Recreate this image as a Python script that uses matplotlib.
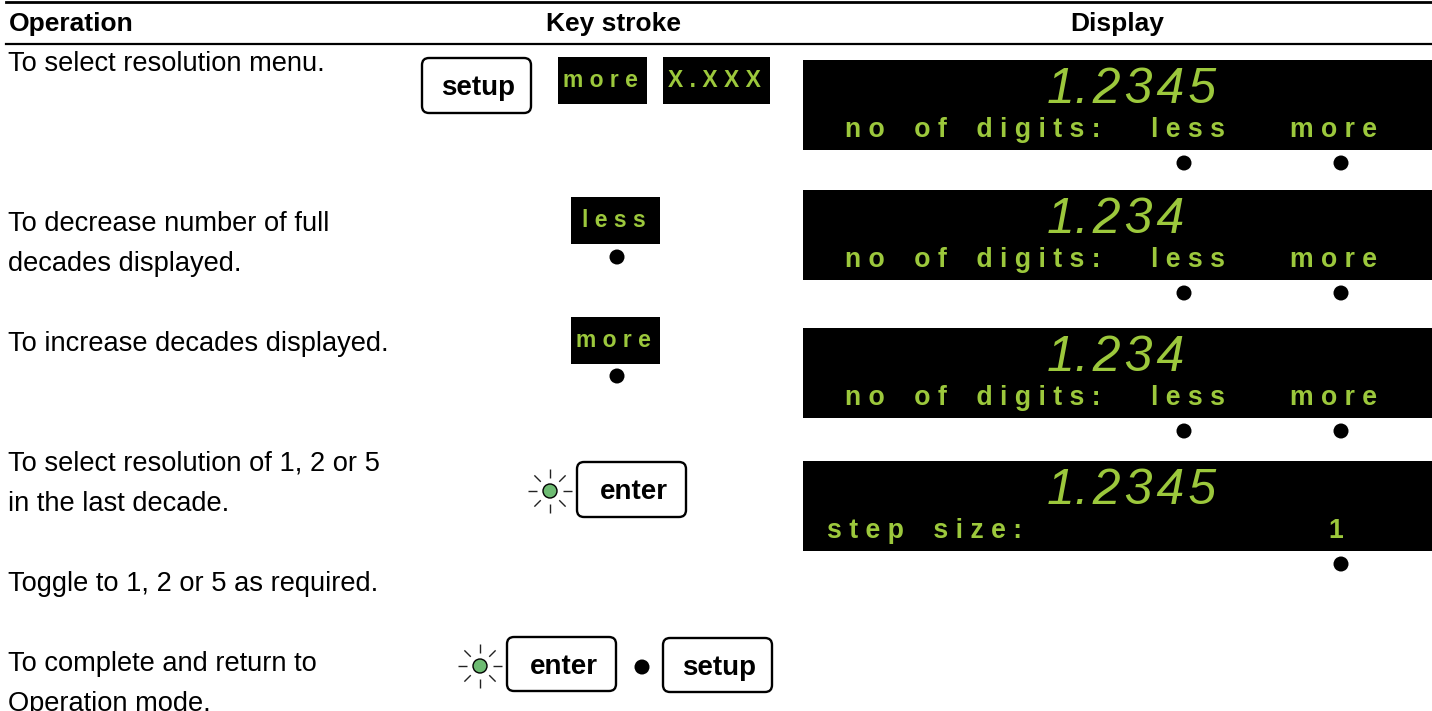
#!/usr/bin/env python3
"""Resolution setup table: operation, key stroke and display columns."""

import matplotlib
matplotlib.use("Agg")
import matplotlib.pyplot as plt
from matplotlib.patches import Circle, FancyBboxPatch, Rectangle

GREEN = "#9cc83c"
LED = "#6dbb72"

headers = ["Operation", "Key stroke", "Display"]
operations = [
    "To select resolution menu.",
    "To decrease number of full\ndecades displayed.",
    "To increase decades displayed.",
    "To select resolution of 1, 2 or 5\nin the last decade.",
    "Toggle to 1, 2 or 5 as required.",
    "To complete and return to\nOperation mode.",
]
display_values = ["1.\u200a2\u200a3\u200a4\u200a5", "1.\u200a2\u200a3\u200a4", "1.\u200a2\u200a3\u200a4", "1.\u200a2\u200a3\u200a4\u200a5"]
display_labels = ["n o    o f    d i g i t s :", "n o    o f    d i g i t s :",
                  "n o    o f    d i g i t s :", "s t e p    s i z e :"]


def spaced(word):
    return " ".join(word)


fig = plt.figure(figsize=(14.32, 7.11), dpi=100)
ax = fig.add_axes([0, 0, 1, 1])
ax.set_xlim(0, 1432)
ax.set_ylim(711, 0)
ax.axis("off")

SANS = ["Liberation Sans", "DejaVu Sans"]
NARROW = ["Liberation Sans Narrow", "Liberation Sans", "DejaVu Sans"]


def draw_key(x0, y0, x1, y1, label):
    ax.add_patch(FancyBboxPatch((x0 + 6, y0 + 6), x1 - x0 - 12, y1 - y0 - 12,
                                boxstyle="round,pad=6,rounding_size=7", fc="white", ec="black", lw=1.7))
    ax.text((x0 + x1) / 2 + 2, y0 + 37, label, ha="center", va="baseline", family=NARROW,
            fontsize=20, fontweight="bold", color="black")


def draw_softkey(x0, y0, x1, y1, label):
    ax.add_patch(Rectangle((x0, y0), x1 - x0, y1 - y0, fc="black", ec="none"))
    ax.text((x0 + x1) / 2 - 2, y0 + 30, spaced(label), ha="center", va="baseline", family=SANS,
            fontsize=16.5, fontweight="bold", color=GREEN)


def draw_dot(x, y):
    ax.add_patch(Circle((x, y), 7.5, fc="black", ec="none"))


def draw_led(x, y):
    # rays around the lit LED
    for dx, dy in [(1, 0), (-1, 0), (0, 1), (0, -1), (.71, .71), (-.71, .71), (.71, -.71), (-.71, -.71)]:
        ax.plot([x + dx * 13, x + dx * 22], [y + dy * 13, y + dy * 22], color="#222222", lw=1, solid_capstyle="butt")
    ax.add_patch(Circle((x, y), 7, fc=LED, ec="black", lw=1))


def draw_display(y0, y1, value, label, right_words):
    ax.add_patch(Rectangle((803, y0), 629, y1 - y0, fc="black", ec="none"))
    ax.text(1047, y0 + 43, value, ha="left", va="baseline", family=SANS, style="italic",
            fontsize=36, color=GREEN)
    ax.text(845 if label.startswith("n") else 827, y0 + 77, label, ha="left", va="baseline", family=SANS,
            fontsize=19.2, fontweight="bold", color=GREEN)
    for x, dot_x, word in right_words:
        ax.text(x, y0 + 77, spaced(word), ha="center", va="baseline", family=SANS,
                fontsize=19.2, fontweight="bold", color=GREEN)
        draw_dot(dot_x, y1 + 13)


# header rules
ax.plot([6, 1432], [2, 2], color="black", lw=2)
ax.plot([6, 1432], [44, 44], color="black", lw=1.6)
ax.text(9, 31, headers[0], ha="left", va="baseline", family=SANS, fontsize=19, fontweight="bold")
ax.text(613, 31, headers[1], ha="center", va="baseline", family=SANS, fontsize=19, fontweight="bold")
ax.text(1117, 31, headers[2], ha="center", va="baseline", family=SANS, fontsize=19, fontweight="bold")

# operation column, text sits on a 40 px baseline grid
op_y = [71, 231, 351, 471, 591, 671]
for y, text in zip(op_y, operations):
    for i, line in enumerate(text.split("\n")):
        ax.text(8, y + 40 * i, line, ha="left", va="baseline", family=SANS, fontsize=19.6, color="black")

# key stroke column
draw_key(422, 58, 531, 113, "setup")
draw_softkey(558, 57, 647, 104, "more")
draw_softkey(663, 57, 770, 104, "X.XXX")
draw_softkey(571, 197, 660, 244, "less")
draw_dot(617, 257)
draw_softkey(571, 317, 660, 364, "more")
draw_dot(617, 376)
draw_led(550, 491)
draw_key(577, 462, 686, 517, "enter")
draw_led(480, 666)
draw_key(507, 637, 616, 691, "enter")
draw_dot(642, 667)
draw_key(663, 638, 772, 692, "setup")

# display column
less_more = [(1188, 1184, "less"), (1334, 1341, "more")]
draw_display(60, 150, display_values[0], display_labels[0], less_more)
draw_display(190, 280, display_values[1], display_labels[1], less_more)
draw_display(328, 418, display_values[2], display_labels[2], less_more)
draw_display(461, 551, display_values[3], display_labels[3], [(1336, 1341, "1")])

fig.savefig("out.png", dpi=100)
